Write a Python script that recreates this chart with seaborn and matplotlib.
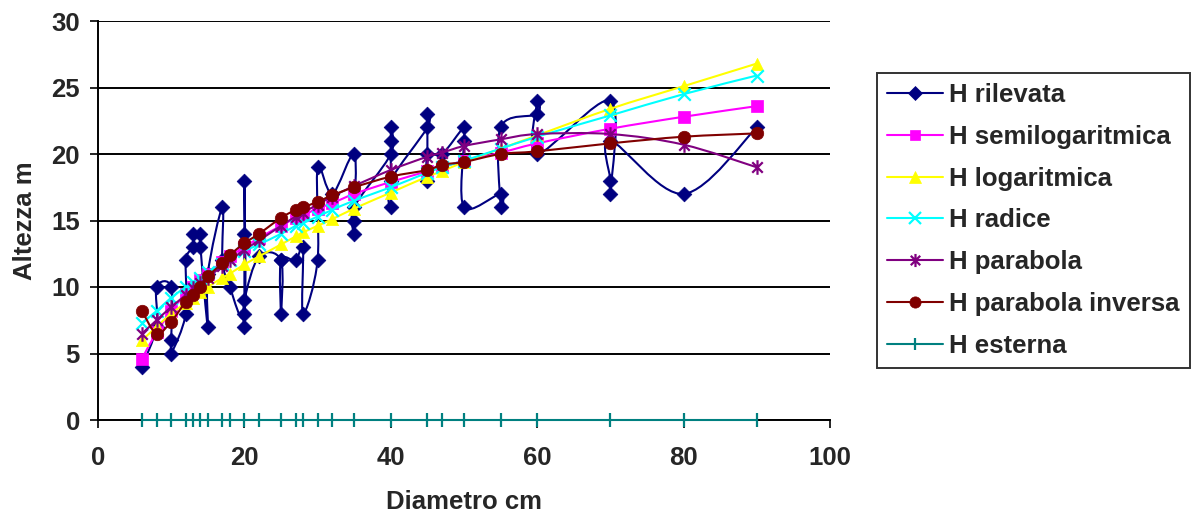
import numpy as np
import matplotlib
matplotlib.use('Agg')
import matplotlib.pyplot as plt
from matplotlib.path import Path
from matplotlib.patches import PathPatch
from matplotlib.lines import Line2D
import seaborn as sns

# --- dati ---
# altezze rilevate (in ordine di foglio, diametri ripetuti)
diam_ril = [6, 8, 8, 10, 10, 10, 12, 12, 13, 13, 14, 14, 15, 15, 17, 17, 18,
            20, 20, 20, 20, 20, 22, 25, 25, 25, 27, 28, 28, 30, 30, 32,
            35, 35, 35, 35, 40, 40, 40, 40, 40, 45, 45, 45, 45, 47,
            50, 50, 50, 55, 55, 55, 60, 60, 60, 70, 70, 70, 70, 80, 90]
h_ril = [4, 7, 10, 10, 6, 5, 8, 12, 13, 14, 14, 13, 7, 11, 16, 12, 10,
         8, 18, 14, 7, 9, 12.3, 12, 8, 12, 12, 13, 8, 12, 19, 17,
         20, 15, 14, 16, 20, 22, 21, 16, 18, 22, 23, 18, 20, 20,
         22, 21, 16, 17, 16, 22, 23, 24, 20, 24, 17, 18, 21, 17, 22]

# curve ipsometriche (un valore per diametro)
diam_mod = [6, 8, 10, 12, 13, 14, 15, 17, 18, 20, 22, 25, 27, 28, 30, 32,
            35, 40, 45, 47, 50, 55, 60, 70, 80, 90]
h_semilog = [4.6, 6.6, 8.2, 9.5, 10.0, 10.5, 11.0, 11.9, 12.3, 13.0, 13.7, 14.6, 15.2,
             15.4, 15.9, 16.3, 17.0, 17.9, 18.7, 19.0, 19.5, 20.1, 20.8, 21.9, 22.8, 23.6]
h_log = [6.0, 7.0, 8.0, 8.8, 9.2, 9.6, 10.0, 10.7, 11.0, 11.7, 12.3, 13.2, 13.8,
         14.1, 14.6, 15.1, 15.9, 17.1, 18.3, 18.7, 19.4, 20.4, 21.4, 23.4, 25.1, 26.8]
h_radice = [7.3, 8.2, 9.2, 10.0, 10.4, 10.7, 11.1, 11.7, 12.0, 12.7, 13.2, 14.0, 14.6,
            14.8, 15.3, 15.8, 16.5, 17.5, 18.6, 19.0, 19.5, 20.4, 21.3, 22.9, 24.5, 25.9]
h_parab = [6.5, 7.5, 8.5, 9.4, 9.9, 10.3, 10.7, 11.6, 12.0, 12.8, 13.5, 14.6, 15.3,
           15.6, 16.2, 16.8, 17.6, 18.8, 19.8, 20.1, 20.6, 21.1, 21.5, 21.5, 20.7, 19.0]
h_parinv = [8.2, 6.5, 7.4, 8.9, 9.4, 10.0, 10.8, 11.8, 12.4, 13.3, 14.0, 15.2, 15.8,
            16.0, 16.4, 16.9, 17.5, 18.3, 18.8, 19.2, 19.4, 20.0, 20.2, 20.8, 21.3, 21.55]
h_esterna = [0] * len(diam_mod)

x_ticks = [0, 20, 40, 60, 80, 100]
y_ticks = [0, 5, 10, 15, 20, 25, 30]

assert len(diam_ril) == len(h_ril)

# asterisco stile Excel: barra verticale + X
asterisk = Path([(0, -1), (0, 1), (-0.72, -0.72), (0.72, 0.72), (-0.72, 0.72), (0.72, -0.72)],
                [Path.MOVETO, Path.LINETO] * 3)

# nome, x, y, colore, marker, dimensione (pt), tipo marker
series = [
    ('H rilevata', diam_ril, h_ril, '#000080', 'D', 7.5, 'fill'),
    ('H semilogaritmica', diam_mod, h_semilog, '#FF00FF', 's', 8.5, 'fill'),
    ('H logaritmica', diam_mod, h_log, '#FFFF00', '^', 8.8, 'fill'),
    ('H radice', diam_mod, h_radice, '#00FFFF', 'x', 9, 'line'),
    ('H parabola', diam_mod, h_parab, '#800080', asterisk, 10.5, 'path'),
    ('H parabola inversa', diam_mod, h_parinv, '#800000', 'o', 9, 'fill'),
    ('H esterna', diam_mod, h_esterna, '#008080', '|', 10, 'line'),
]


def smooth_path(xs, ys):
    # linea smussata tipo Excel (Catmull-Rom -> Bezier)
    pts = np.column_stack([xs, ys]).astype(float)
    n = len(pts)
    verts = [pts[0]]
    codes = [Path.MOVETO]
    for i in range(n - 1):
        p0 = pts[i - 1] if i > 0 else pts[i]
        p1, p2 = pts[i], pts[i + 1]
        p3 = pts[i + 2] if i + 2 < n else pts[i + 1]
        verts += [p1 + (p2 - p0) / 6, p2 - (p3 - p1) / 6, p2]
        codes += [Path.CURVE4] * 3
    return Path(verts, codes)


sns.set_theme(style='white')
plt.rcParams['font.family'] = ['Liberation Sans', 'DejaVu Sans']
plt.rcParams['font.weight'] = 'bold'
FS = 18.5

fig = plt.figure(figsize=(11.93, 5.17), dpi=100)
ax = fig.add_axes([98 / 1193, 1 - 420 / 517, 732 / 1193, 399 / 517])

handles = []
for k, (name, xs, ys, col, mk, ms, kind) in enumerate(series):
    z = 3 + k
    ax.add_patch(PathPatch(smooth_path(xs, ys), facecolor='none', edgecolor=col,
                           lw=1.5, zorder=z, clip_on=False))
    if kind == 'fill':
        kw = dict(edgecolor=col, linewidth=0.5)
    elif kind == 'path':
        kw = dict(edgecolor=col, linewidth=1.6)
    else:
        kw = dict(linewidth=1.6)
    sns.scatterplot(x=xs, y=ys, ax=ax, marker=mk, s=ms ** 2, color=col,
                    zorder=z + 0.5, legend=False, clip_on=False, **kw)
    handles.append(Line2D([], [], color=col, lw=1.5, marker=mk, markersize=ms * 0.9,
                          markerfacecolor=col, markeredgecolor=col,
                          markeredgewidth=0.5 if kind == 'fill' else 1.6))

ax.set_xlim(0, 100)
ax.set_ylim(0, 30)
ax.set_xticks(x_ticks)
ax.set_yticks(y_ticks)
ax.yaxis.grid(True, color='black', lw=1.4)
ax.xaxis.grid(False)
ax.set_axisbelow(True)
for s in ['top', 'right']:
    ax.spines[s].set_visible(False)
for s in ['left', 'bottom']:
    ax.spines[s].set_color('black')
    ax.spines[s].set_linewidth(1.4)
ax.tick_params(axis='both', direction='out', length=6, width=1.2, color='black',
               labelsize=FS, bottom=True, left=True)
ax.tick_params(axis='y', pad=7)
ax.tick_params(axis='x', pad=13)
for lab in ax.get_xticklabels() + ax.get_yticklabels():
    lab.set_fontweight('bold')

ax.set_xlabel('Diametro cm', fontsize=FS, fontweight='bold', labelpad=14)
ax.set_ylabel('Altezza m', fontsize=FS, fontweight='bold', labelpad=10)

leg = fig.legend(handles=handles, labels=[s[0] for s in series],
                 loc='upper left', bbox_to_anchor=(877 / 1193, 1 - 73 / 517),
                 bbox_transform=fig.transFigure, borderaxespad=0,
                 frameon=True, fancybox=False, edgecolor='black',
                 prop={'size': FS, 'weight': 'bold'},
                 handlelength=2.15, handletextpad=0.27, borderpad=0.4,
                 labelspacing=0.69)
leg.get_frame().set_linewidth(1.4)

fig.savefig('out.png', dpi=100)
